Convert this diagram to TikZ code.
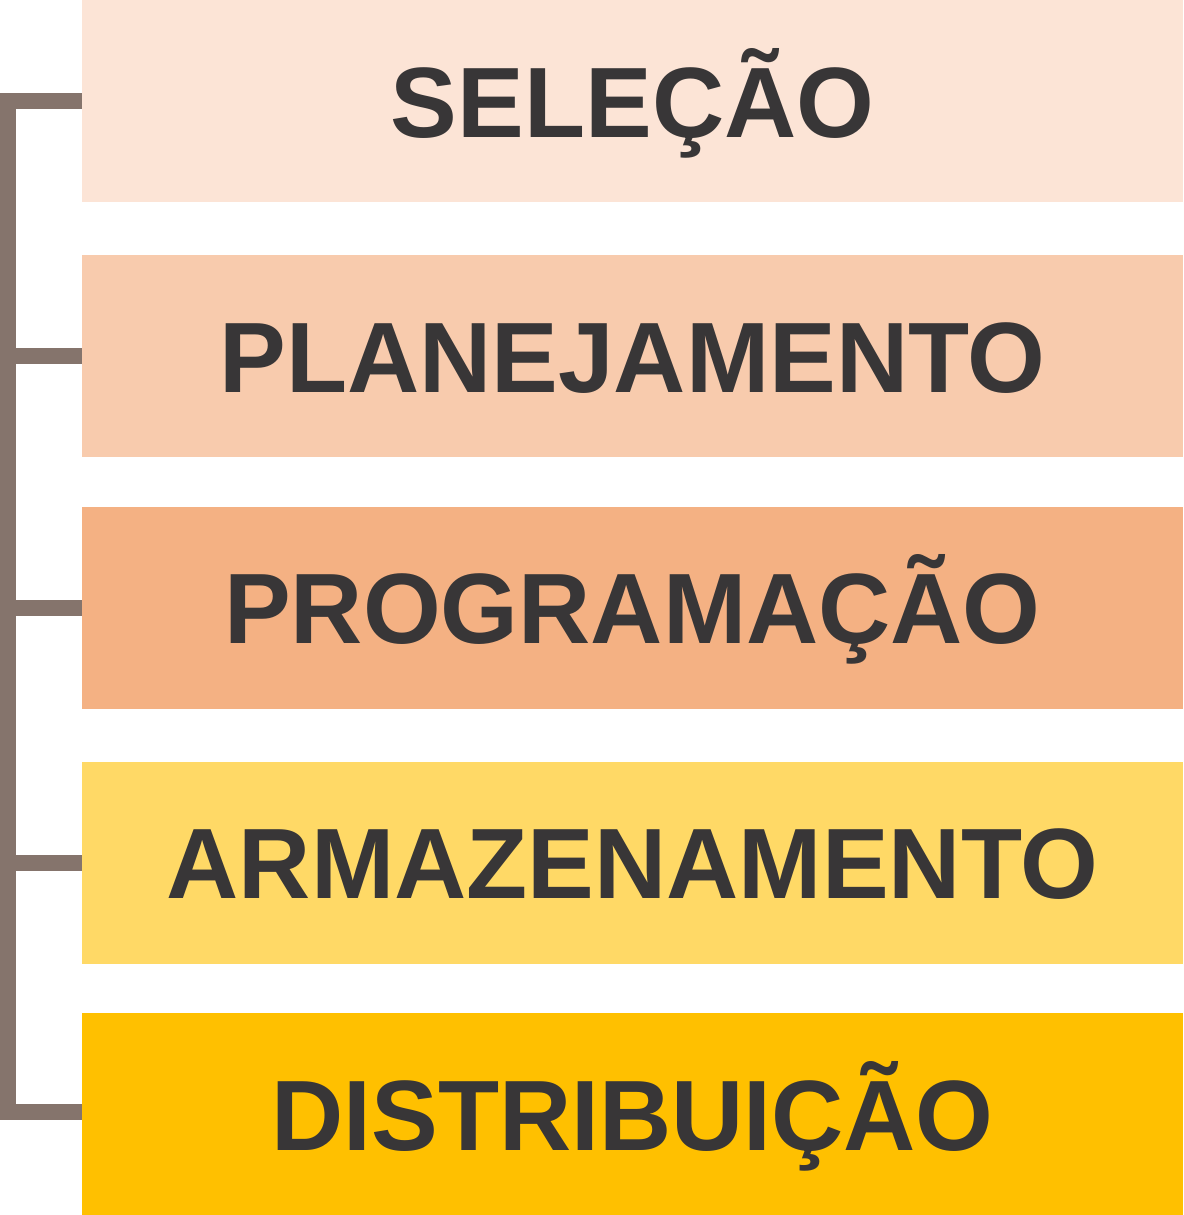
\documentclass[tikz,border=0pt]{standalone}
\usepackage{fontspec}
\setmainfont{Liberation Sans}
\usepackage{xcolor}
\usepackage{tikz}

\definecolor{fase1}{HTML}{FCE4D6}
\definecolor{fase2}{HTML}{F8CBAD}
\definecolor{fase3}{HTML}{F4B183}
\definecolor{fase4}{HTML}{FFD966}
\definecolor{fase5}{HTML}{FFC000}
\definecolor{texto}{HTML}{383637}
\definecolor{chave}{HTML}{85746C}

\begin{document}
\begin{tikzpicture}[
x=1pt, y=1pt,
fase/.style={rectangle, minimum width=1101pt, minimum height=202pt, inner sep=0pt,
  font=\fontsize{100}{100}\selectfont\bfseries, text=texto, text height=72pt, text depth=0pt},
haste/.style={line width=16pt, color=chave, line join=miter}
]
\useasboundingbox (0,0) rectangle (1183,-1215);

\node[fase, fill=fase1] (f1) at (632.5,-101) {SELEÇÃO};
\node[fase, fill=fase2] (f2) at (632.5,-356) {PLANEJAMENTO};
\node[fase, fill=fase3] (f3) at (632.5,-607.5) {PROGRAMAÇÃO};
\node[fase, fill=fase4] (f4) at (632.5,-862.5) {ARMAZENAMENTO};
\node[fase, fill=fase5] (f5) at (632.5,-1114) {DISTRIBUIÇÃO};

\coordinate (topo) at (8,-101);
\coordinate (base) at (8,-1112);

\draw[haste] (f1.west) -- (topo) -- (base) -- (base -| f5.west);
\foreach \i in {2,3,4}
  \draw[haste] (f\i.west) -- (f\i.west -| topo);

\end{tikzpicture}
\end{document}
